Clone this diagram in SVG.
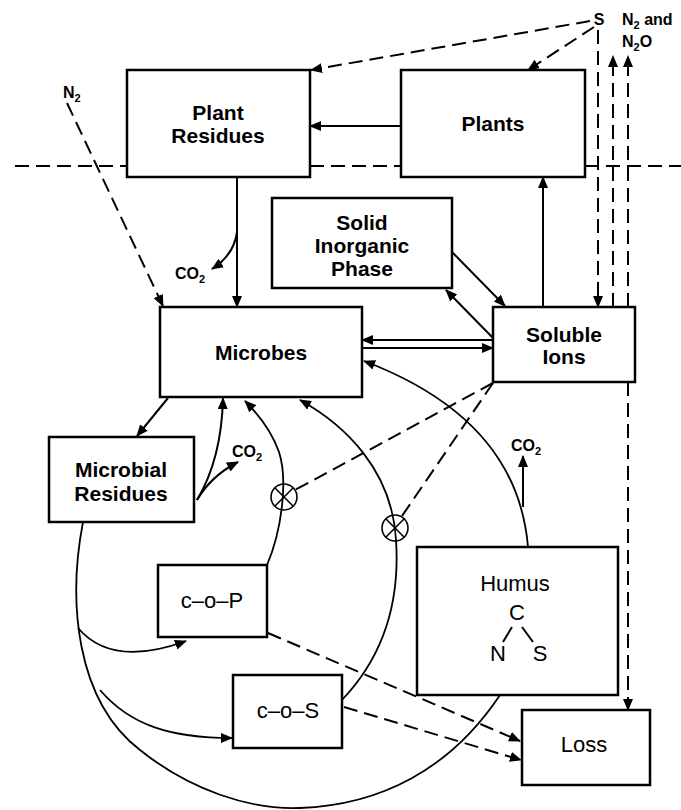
<svg xmlns="http://www.w3.org/2000/svg" width="681" height="810" viewBox="0 0 681 810">
<defs>
<marker id="ah" viewBox="0 0 12 10" refX="11" refY="5" markerWidth="12" markerHeight="10" markerUnits="userSpaceOnUse" orient="auto"><path d="M0,0 L12,5 L0,10 z" fill="#000"/></marker>
<style>
.box{fill:#fff;stroke:#000;stroke-width:2.5}
.b{font-family:"Liberation Sans",Arial,sans-serif;font-weight:bold;font-size:21px;text-anchor:middle;fill:#000}
.r{font-family:"Liberation Sans",Arial,sans-serif;font-weight:normal;font-size:22px;text-anchor:middle;fill:#000}
.s{font-family:"Liberation Sans",Arial,sans-serif;font-weight:bold;font-size:16px;fill:#000}
.c{fill:none;stroke:#000;stroke-width:2}
.a{fill:none;stroke:#000;stroke-width:2;marker-end:url(#ah)}
.d{fill:none;stroke:#000;stroke-width:2;stroke-dasharray:14 7}
.da{fill:none;stroke:#000;stroke-width:2;stroke-dasharray:14 7;marker-end:url(#ah)}
.t{fill:none;stroke:#000;stroke-width:1.8}
</style>
</defs>
<rect width="681" height="810" fill="#fff"/>

<g id="surface">
<line class="d" x1="15" y1="166" x2="127" y2="166"/>
<line class="d" x1="310" y1="166" x2="401" y2="166"/>
<line class="d" x1="585" y1="166" x2="681" y2="166"/>
</g>

<g id="plant-residues">
<rect class="box" x="127" y="70" width="183" height="107"/>
<text class="b" x="218" y="120">Plant</text>
<text class="b" x="218" y="143">Residues</text>
</g>
<g id="plants">
<rect class="box" x="401" y="70" width="184" height="107"/>
<text class="b" x="493" y="131">Plants</text>
</g>
<g id="solid-inorganic-phase">
<rect class="box" x="272" y="198" width="180" height="90"/>
<text class="b" x="362" y="230">Solid</text>
<text class="b" x="362" y="253">Inorganic</text>
<text class="b" x="362" y="276">Phase</text>
</g>
<g id="microbes">
<rect class="box" x="160" y="307" width="202" height="90"/>
<text class="b" x="261" y="360">Microbes</text>
</g>
<g id="soluble-ions">
<rect class="box" x="493" y="307" width="142" height="75"/>
<text class="b" x="564" y="342">Soluble</text>
<text class="b" x="564" y="364">Ions</text>
</g>
<g id="microbial-residues">
<rect class="box" x="49" y="437" width="145" height="85"/>
<text class="b" x="121" y="477">Microbial</text>
<text class="b" x="121" y="501">Residues</text>
</g>
<g id="c-o-p">
<rect class="box" x="158" y="565" width="109" height="72"/>
<text class="r" x="212" y="608">c–o–P</text>
</g>
<g id="c-o-s">
<rect class="box" x="233" y="675" width="109" height="73"/>
<text class="r" x="288" y="718">c–o–S</text>
</g>
<g id="humus">
<rect class="box" x="417" y="547" width="201" height="148"/>
<text class="r" x="515" y="591">Humus</text>
<text class="r" x="517" y="620">C</text>
<text class="r" x="498" y="661">N</text>
<text class="r" x="540" y="661">S</text>
<line class="c" x1="512" y1="627" x2="503" y2="642" stroke-width="1.6"/>
<line class="c" x1="522" y1="627" x2="533" y2="642" stroke-width="1.6"/>
</g>
<g id="loss">
<rect class="box" x="522" y="710" width="128" height="75"/>
<text class="r" x="584" y="752">Loss</text>
</g>

<g id="labels">
<text class="s" x="599" y="25" text-anchor="middle">S</text>
<text class="s" x="622" y="25">N<tspan font-size="11" dy="4">2</tspan><tspan dy="-4"> and</tspan></text>
<text class="s" x="622" y="47">N<tspan font-size="11" dy="4">2</tspan><tspan dy="-4">O</tspan></text>
<text class="s" x="63" y="98">N<tspan font-size="11" dy="4">2</tspan></text>
<text class="s" x="175" y="279">CO<tspan font-size="11" dy="4">2</tspan></text>
<text class="s" x="232" y="457">CO<tspan font-size="11" dy="4">2</tspan></text>
<text class="s" x="511" y="451">CO<tspan font-size="11" dy="4">2</tspan></text>
</g>

<g id="connectors">
<!-- S inputs -->
<line class="da" x1="590" y1="21" x2="311" y2="70"/>
<line class="da" x1="594" y1="27" x2="528" y2="70"/>
<line class="da" x1="598" y1="30" x2="598" y2="307"/>
<line class="da" x1="613" y1="307" x2="613" y2="56"/>
<line class="da" x1="628" y1="307" x2="628" y2="56"/>
<line class="da" x1="628" y1="382" x2="628" y2="710"/>
<!-- N2 input -->
<line class="da" x1="67" y1="103" x2="163" y2="306"/>
<!-- plants / residues -->
<line class="a" x1="401" y1="126" x2="310" y2="126"/>
<line class="a" x1="237" y1="177" x2="237" y2="307"/>
<path class="a" d="M237,232 Q234,255 212,269"/>
<line class="a" x1="543" y1="307" x2="543" y2="177"/>
<!-- solid inorganic phase / soluble ions -->
<line class="a" x1="452" y1="252" x2="505" y2="306"/>
<line class="a" x1="493" y1="338" x2="446" y2="290"/>
<!-- microbes / soluble ions -->
<line class="a" x1="493" y1="340" x2="362" y2="340"/>
<line class="a" x1="362" y1="348" x2="493" y2="348"/>
<!-- microbes / microbial residues -->
<line class="a" x1="168" y1="398" x2="137" y2="436"/>
<path class="a" d="M197,500 C212,475 222,440 223,398"/>
<path class="a" d="M197,500 Q211,476 238,462"/>
<!-- big loop -->
<path class="t" d="M83,522 C68,600 75,700 140,750 C190,790 250,810 300,808 C380,805 450,770 500,695"/>
<path class="t" d="M78,628 Q112,668 186,641" marker-end="url(#ah)"/>
<path class="t" d="M100,690 C130,725 170,738 232,738" marker-end="url(#ah)"/>
<!-- arcs to microbes -->
<path class="t" d="M267,565 C282,530 288,480 279,452 C272,432 260,416 245,401" marker-end="url(#ah)"/>
<path class="t" d="M342,700 C385,655 400,600 396,540 C392,470 345,425 300,400" marker-end="url(#ah)"/>
<path class="t" d="M528,547 C522,475 480,405 364,361" marker-end="url(#ah)"/>
<line class="a" x1="523" y1="507" x2="523" y2="456"/>
<!-- inhibition markers -->
<line class="d" x1="493" y1="383" x2="295" y2="490"/>
<line class="d" x1="493" y1="383" x2="402" y2="516"/>
<!-- to loss -->
<line class="da" x1="268" y1="633" x2="520" y2="741"/>
<line class="da" x1="344" y1="707" x2="521" y2="760"/>
</g>

<g id="inhibitors" fill="none" stroke="#000" stroke-width="1.6">
<circle cx="284" cy="497" r="13"/>
<line x1="275" y1="488" x2="293" y2="506"/>
<line x1="293" y1="488" x2="275" y2="506"/>
<circle cx="395" cy="528" r="13"/>
<line x1="386" y1="519" x2="404" y2="537"/>
<line x1="404" y1="519" x2="386" y2="537"/>
</g>
</svg>
